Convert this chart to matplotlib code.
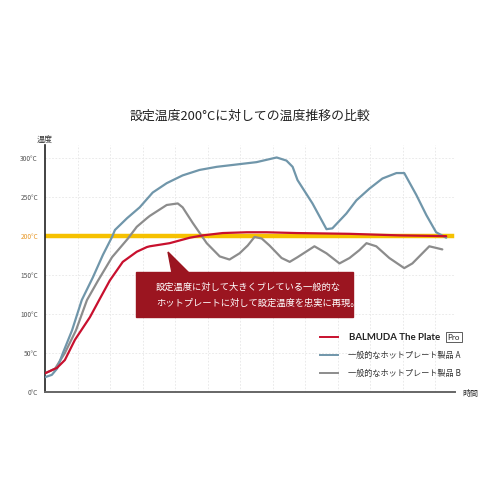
import matplotlib.pyplot as plt
from matplotlib.patches import Polygon, Rectangle

plt.rcParams['font.family'] = ['Noto Sans CJK JP', 'DejaVu Sans']

# time in grid units, temperature in °C
red_t = [0, 0.37, 0.61, 0.92, 1.38, 1.69, 1.99, 2.39, 2.82, 3.13, 3.22, 3.83,
         4.45, 4.85, 5.46, 6.20, 6.81, 7.73, 9.36, 10.89, 12.33]
red_T = [24, 31, 41, 67, 96, 120, 143, 167, 180, 186, 187, 191,
         198, 201, 204, 205, 205, 204, 203, 201, 200]

blue_t = [0, 0.21, 0.37, 0.55, 0.83, 1.13, 1.47, 1.78, 2.06, 2.15, 2.52, 2.91,
          3.31, 3.74, 4.23, 4.75, 5.28, 5.89, 6.50, 7.12, 7.42, 7.61, 7.76,
          8.22, 8.65, 8.83, 9.26, 9.57, 9.97, 10.37, 10.80, 11.04, 11.41,
          11.72, 12.02, 12.33]
blue_T = [19, 22, 30, 50, 79, 118, 147, 176, 199, 208, 223, 237,
          256, 268, 278, 285, 289, 292, 295, 301, 297, 289, 272,
          242, 209, 210, 229, 246, 261, 274, 281, 281, 253,
          227, 205, 198]

gray_t = [0, 0.31, 0.61, 0.95, 1.29, 1.63, 2.06, 2.55, 2.82, 3.13, 3.22, 3.74,
          4.08, 4.23, 4.54, 4.97, 5.37, 5.67, 5.98, 6.23, 6.44, 6.66, 6.90,
          7.27, 7.52, 7.76, 8.28, 8.65, 9.05, 9.36, 9.66, 9.88, 10.18,
          10.58, 11.04, 11.29, 11.81, 12.21]
gray_T = [24, 30, 50, 79, 118, 143, 173, 197, 212, 223, 226, 240,
          242, 237, 217, 191, 174, 170, 178, 188, 199, 197, 188,
          172, 167, 173, 187, 178, 165, 172, 182, 191, 187,
          172, 159, 165, 187, 183]

set_temp = 200
y_ticks = [0, 50, 100, 150, 200, 250, 300]
y_labels = ['0°C', '50°C', '100°C', '150°C', '200°C', '250°C', '300°C']

red = '#c8102e'
blue = '#7096aa'
gray = '#8c8c8c'
yellow = '#f6c100'
box_red = '#9b1520'

fig = plt.figure(figsize=(5, 5), dpi=100)
ax = fig.add_axes([0.09, 0.216, 0.82, 0.494])

ax.axhline(set_temp, xmin=0, xmax=0.993, color=yellow, lw=3.2, zorder=2)
line_kw = dict(lw=1.6, solid_joinstyle='round', solid_capstyle='round')
ax.plot(gray_t, gray_T, color=gray, zorder=3, **line_kw)
ax.plot(blue_t, blue_T, color=blue, zorder=3, **line_kw)
ax.plot(red_t, red_T, color=red, zorder=4, **line_kw)

ax.set_xlim(0, 12.6)
ax.set_ylim(0, 317)
ax.set_xticks(range(1, 13))
ax.set_xticklabels([])
ax.tick_params(axis='x', length=0)
ax.set_yticks(y_ticks)
ax.set_yticklabels(y_labels, fontsize=4.8, color='#555555')
ax.tick_params(axis='y', length=0, pad=5)
ax.get_yticklabels()[4].set_color('#e89a2c')
ax.grid(True, color='#e6e6e6', lw=0.6, ls=(0, (2, 2)))
for s in ['top', 'right']:
    ax.spines[s].set_visible(False)
ax.spines['left'].set_color('#222222')
ax.spines['left'].set_linewidth(1.2)
ax.spines['bottom'].set_color('#666666')
ax.spines['bottom'].set_linewidth(1.4)

fig.text(0.5, 0.768, '設定温度200°Cに対しての温度推移の比較', ha='center',
         va='center', fontsize=9.3, color='#222222')
fig.text(0.074, 0.722, '温度', ha='left', va='center', fontsize=5.8,
         color='#333333')
fig.text(0.925, 0.214, '時間', ha='left', va='center', fontsize=5.8,
         color='#333333')

# annotation callout
tr = fig.transFigure
fig.patches.append(Rectangle((136 / 500, 1 - 317 / 500), 217 / 500, 45 / 500,
                             transform=tr, color=box_red, zorder=5))
fig.patches.append(Polygon([(168 / 500, 1 - 252 / 500), (172 / 500, 1 - 273 / 500),
                            (189 / 500, 1 - 273 / 500)],
                           transform=tr, color=box_red, zorder=5))
fig.text(156 / 500, 1 - 287 / 500, '設定温度に対して大きくブレている一般的な',
         fontsize=6.7, color='white', va='center', zorder=6)
fig.text(156 / 500, 1 - 303 / 500, 'ホットプレートに対して設定温度を忠実に再現。',
         fontsize=6.7, color='white', va='center', zorder=6)

# legend
leg_rows = [('BALMUDA The Plate', red), ('一般的なホットプレート製品 A', blue),
            ('一般的なホットプレート製品 B', gray)]
for i, (name, c) in enumerate(leg_rows):
    yy = 1 - (337 + 18 * i) / 500
    fig.add_artist(plt.Line2D([320 / 500, 338 / 500], [yy, yy], color=c,
                              lw=1.4, transform=tr))
    if i == 0:
        fig.text(349 / 500, yy, name, fontsize=6.9, fontweight='bold',
                 color='#222222', va='center', family=['Lato', 'DejaVu Sans'])
    else:
        fig.text(348 / 500, yy, name, fontsize=5.9, color='#333333', va='center')
fig.text(454 / 500, 1 - 337 / 500, 'Pro', fontsize=5.8, color='#222222',
         ha='center', va='center', family=['Lato', 'DejaVu Sans'],
         bbox=dict(boxstyle='square,pad=0.2', fc='white', ec='#444444', lw=0.6))

fig.savefig('out.png', dpi=100, facecolor='white')
